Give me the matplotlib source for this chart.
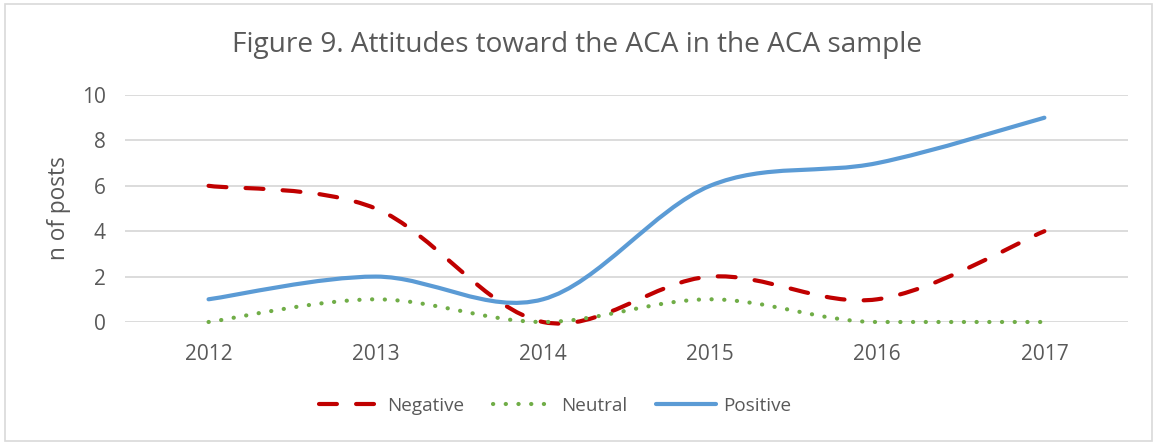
import matplotlib.pyplot as plt
from matplotlib.path import Path
from matplotlib.patches import PathPatch, Rectangle
from matplotlib.lines import Line2D

years = [2012, 2013, 2014, 2015, 2016, 2017]
negative = [6, 5, 0, 2, 1, 4]
neutral = [0, 1, 0, 1, 0, 0]
positive = [1, 2, 1, 6, 7, 9]

plt.rcParams['font.family'] = ['Open Sans', 'DejaVu Sans']
TXT = '#595959'


def smooth_path(xs, ys):
    # Excel-like smoothed line: cubic bezier, catmull-rom style tangents
    n = len(xs)
    tang = []
    for i in range(n):
        a = max(i - 1, 0)
        b = min(i + 1, n - 1)
        dx = (xs[b] - xs[a]) / 6
        dy = (ys[b] - ys[a]) / 6
        # flat where a neighbour has the same value (Excel keeps these flat)
        if (i > 0 and ys[i - 1] == ys[i]) or (i < n - 1 and ys[i + 1] == ys[i]):
            dy = 0
        tang.append((dx, dy))
    verts = [(xs[0], ys[0])]
    codes = [Path.MOVETO]
    for i in range(n - 1):
        verts += [(xs[i] + tang[i][0], ys[i] + tang[i][1]),
                  (xs[i + 1] - tang[i + 1][0], ys[i + 1] - tang[i + 1][1]),
                  (xs[i + 1], ys[i + 1])]
        codes += [Path.CURVE4] * 3
    return Path(verts, codes)


fig = plt.figure(figsize=(11.55, 4.44), dpi=100)
ax = fig.add_axes([0.1082, 0.2748, 0.8684, 0.5112])

styles = [
    ('Negative', negative, '#C00000', (0, (4.3, 4.6))),
    ('Neutral', neutral, '#70AD47', (0, (0.05, 3.0))),
    ('Positive', positive, '#5B9BD5', '-'),
]
x = list(range(len(years)))
handles = []
for name, vals, col, ls in styles:
    patch = PathPatch(smooth_path(x, vals), facecolor='none', edgecolor=col,
                      lw=3.0, zorder=3, linestyle=ls, capstyle='round', clip_on=False)
    ax.add_patch(patch)
    handles.append(Line2D([], [], color=col, lw=3.0, linestyle=ls,
                          dash_capstyle='round', solid_capstyle='round', label=name))

ax.set_xlim(-0.5, len(years) - 0.5)
ax.set_ylim(0, 10)
ax.set_yticks(range(0, 11, 2))
ax.set_xticks(x)
ax.set_xticklabels([str(y) for y in years])
ax.yaxis.grid(True, color='#D9D9D9', lw=1.3)
ax.set_axisbelow(True)
for s in ax.spines.values():
    s.set_visible(False)
ax.tick_params(length=0, labelsize=15, colors=TXT)
ax.tick_params(axis='x', pad=16)
ax.tick_params(axis='y', pad=14)
ax.set_ylabel('n of posts', fontsize=16.3, color=TXT, labelpad=8)

fig.text(0.5, 0.899, 'Figure 9. Attitudes toward the ACA in the ACA sample',
         ha='center', va='center', fontsize=20.2, color=TXT)

fig.legend(handles=handles, loc='center', bbox_to_anchor=(0.481, 0.086), ncol=3,
           frameon=False, fontsize=13.6, handlelength=3.2, columnspacing=1.5,
           handletextpad=0.4, labelcolor=TXT)

fig.patches.append(Rectangle((0.004, 0.006), 0.993, 0.986, transform=fig.transFigure,
                             fill=False, edgecolor='#D9D9D9', lw=1.2))

fig.savefig('out.png', dpi=100)
